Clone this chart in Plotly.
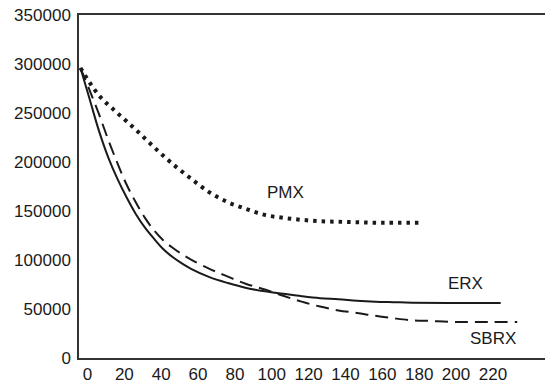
import plotly.graph_objects as go

# Data
erx_x = [0, 5, 10, 15, 20, 25, 30, 35, 40, 45, 50, 55, 60, 70, 80, 90, 100, 110, 120, 130, 140, 150, 160, 170, 180, 200, 228]
erx_y = [296000, 264000, 232000, 205000, 183000, 164000, 147000, 133000, 121500, 111000, 103000, 96500, 91000,
         82500, 76500, 71500, 68000, 65500, 63000, 61000, 60000, 58500, 57500, 57000, 56500, 56000, 56000]

sbrx_x = [0, 5, 10, 15, 20, 25, 30, 35, 40, 45, 50, 55, 60, 70, 80, 90, 100, 110, 120, 130, 140, 150, 160, 170, 180, 190, 200, 210, 237]
sbrx_y = [296000, 273000, 249000, 223000, 199000, 177000, 159000, 143000, 130000, 120000, 112500, 106000, 100500,
          91000, 83000, 75500, 70000, 63500, 57500, 52500, 48500, 46000, 43000, 40500, 38500, 37800, 37000, 36700, 36700]

pmx_x = [0, 10, 20, 30, 40, 50, 60, 70, 80, 90, 100, 110, 120, 130, 140, 150, 160, 170, 185]
pmx_y = [296000, 268000, 250000, 233000, 215000, 198000, 183000, 169000, 159000, 152000, 146000,
         143000, 141000, 139500, 139000, 138500, 138000, 138000, 138000]

x_ticks = [0, 20, 40, 60, 80, 100, 120, 140, 160, 180, 200, 220]
y_ticks = [0, 50000, 100000, 150000, 200000, 250000, 300000, 350000]

labels = [("PMX", 111, 169000), ("ERX", 208.7, 76500), ("SBRX", 223.8, 20400)]

FONT = "Liberation Sans, Arial, sans-serif"
INK = "#1a1a1a"

fig = go.Figure()
fig.add_trace(go.Scatter(x=pmx_x, y=pmx_y, mode="lines", line=dict(color=INK, width=4, dash="3.5px,5px", shape="spline"),
                         name="PMX", hoverinfo="skip"))
fig.add_trace(go.Scatter(x=sbrx_x, y=sbrx_y, mode="lines", line=dict(color=INK, width=2, dash="13px,7px", shape="spline"),
                         name="SBRX", hoverinfo="skip"))
fig.add_trace(go.Scatter(x=erx_x, y=erx_y, mode="lines", line=dict(color=INK, width=2, shape="spline"),
                         name="ERX", hoverinfo="skip"))

for t, x, y in labels:
    fig.add_annotation(x=x, y=y, text=t, showarrow=False, font=dict(family=FONT, size=17, color=INK))

# the page has an 8px body margin, so the figure is sized to fill the rest of the window
fig.update_layout(
    template="none",
    width=545, height=376,
    margin=dict(l=71, r=7, t=7, b=26, pad=0),
    paper_bgcolor="white", plot_bgcolor="white",
    showlegend=False,
    font=dict(family=FONT, size=17, color=INK),
)
fig.update_xaxes(range=[-0.8, 252.6], tickvals=x_ticks, ticktext=[str(v) for v in x_ticks], automargin=False,
                 showgrid=False, zeroline=False, showline=True, linecolor="#333", linewidth=1.5, mirror=True,
                 ticks="", ticklabelshift=7, ticklabelstandoff=0, ticklabeloverflow="allow", tickfont=dict(size=17))
fig.update_yaxes(range=[0, 350000], tickvals=y_ticks, ticktext=[str(v) for v in y_ticks], automargin=False,
                 showgrid=False, zeroline=False, showline=True, linecolor="#333", linewidth=1.5, mirror=True,
                 ticks="", ticklabelstandoff=3, ticklabeloverflow="allow", tickfont=dict(size=17))

fig.write_html("out.html")
